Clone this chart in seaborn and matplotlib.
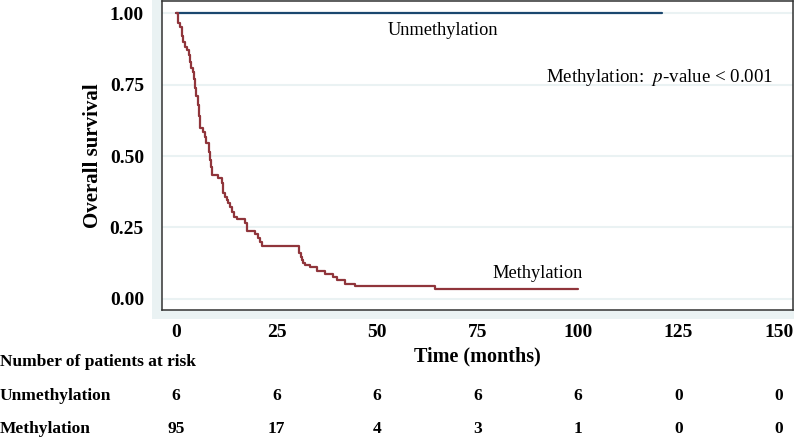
import numpy as np
import pandas as pd
import seaborn as sns
import matplotlib.pyplot as plt
import matplotlib.transforms as mtransforms
from matplotlib.patches import Rectangle

# Kaplan-Meier step values
unmeth_time = [0, 121]
unmeth_surv = [1.0, 1.0]

meth_time = [0, 0.4, 0.6, 1.0, 1.4, 1.6, 1.8, 2.2, 2.7, 3.1, 3.4, 3.7, 4.3, 4.5,
             4.7, 5.0, 5.5, 5.7, 6.0, 6.8, 7.1, 7.5, 8.3, 8.5, 8.7, 8.9, 10.5,
             11.4, 11.6, 11.8, 12.2, 12.6, 13.0, 13.4, 13.8, 14.3, 15.1, 17.2,
             17.6, 19.7, 20.5, 21.0, 21.3, 30.7, 31.0, 31.3, 31.7, 32.1, 33.3,
             35.0, 37.1, 39.1, 40.0, 42.0, 44.5, 64.4, 100]
meth_surv = [1.0, 0.979, 0.964, 0.952, 0.94, 0.92, 0.90, 0.882, 0.87, 0.853,
             0.83, 0.807, 0.795, 0.77, 0.737, 0.71, 0.678, 0.64, 0.597, 0.585,
             0.565, 0.544, 0.515, 0.486, 0.46, 0.434, 0.422, 0.405, 0.39, 0.37,
             0.358, 0.346, 0.335, 0.323, 0.305, 0.288, 0.28, 0.265, 0.239, 0.226,
             0.212, 0.198, 0.185, 0.16, 0.147, 0.136, 0.127, 0.119, 0.111, 0.098,
             0.086, 0.076, 0.066, 0.052, 0.045, 0.035, 0.035]

risk_times = [0, 25, 50, 75, 100, 125, 150]
risk_unmeth = [6, 6, 6, 6, 6, 0, 0]
risk_meth = [95, 17, 4, 3, 1, 0, 0]

sns.set_style("white")
plt.rcParams['font.family'] = ['Liberation Serif', 'DejaVu Serif']
plt.rcParams['mathtext.fontset'] = 'stix'
plt.rcParams['text.color'] = 'black'
plt.rcParams['axes.labelcolor'] = 'black'

navy = '#1A476F'
maroon = '#90353B'
bg = '#EAF2F3'

fig = plt.figure(figsize=(7.94, 4.38), dpi=100)
# light graph region behind the plot
bg_ax = fig.add_axes([152 / 794, 1 - 319 / 438, 1 - 152 / 794, 319 / 438])
bg_ax.set_axis_off()
bg_ax.add_patch(Rectangle((0, 0), 1, 1, transform=bg_ax.transAxes,
                          facecolor=bg, edgecolor='none'))
bg_ax.set_zorder(0)

ax = fig.add_axes([162 / 794, 1 - 310 / 438, 631 / 794, 309 / 438])
ax.set_zorder(2)
ax.set_facecolor('white')

df_u = pd.DataFrame({'time': unmeth_time, 'surv': unmeth_surv})
df_m = pd.DataFrame({'time': meth_time, 'surv': meth_surv})
sns.lineplot(data=df_u, x='time', y='surv', ax=ax, color=navy, lw=1.6,
             drawstyle='steps-post', estimator=None)
sns.lineplot(data=df_m, x='time', y='surv', ax=ax, color=maroon, lw=1.6,
             drawstyle='steps-post', estimator=None)

ax.set_xlim(-3.5, 153.5)
ax.set_ylim(-0.0385, 1.042)
ax.set_xticks(risk_times)
ax.set_yticks([0, 0.25, 0.5, 0.75, 1.0])
ax.set_yticklabels(['0.00', '0.25', '0.50', '0.75', '1.00'])
ax.yaxis.grid(True, color=bg, lw=1.5)
ax.set_axisbelow(True)
ax.tick_params(axis='both', direction='out', length=6, width=1, colors='#333333',
               labelcolor='black', labelsize=14, pad=4)
ax.tick_params(axis='y', pad=7)
for lab in ax.get_xticklabels() + ax.get_yticklabels():
    lab.set_fontweight('bold')
for sp in ax.spines.values():
    sp.set_color('#333333')
    sp.set_linewidth(1.1)

ax.set_xlabel('Time (months)', fontsize=14.5, fontweight='bold', labelpad=4)
ax.set_ylabel('Overall survival', fontsize=15, fontweight='bold', labelpad=5)

ax.text(66.4, 0.94, 'Unmethylation', fontsize=13.2, ha='center', va='center')
ax.text(90, 0.09, 'Methylation', fontsize=13.2, ha='center', va='center')
ax.text(148.5, 0.775, 'Methylation:  $p$-value < 0.001', fontsize=13.6,
        ha='right', va='center')

# number at risk table
trans = mtransforms.blended_transform_factory(ax.transData, fig.transFigure)
fs = 12.5
fig.text(0.0, 1 - 362 / 438, 'Number of patients at risk', fontsize=fs,
         fontweight='bold', va='center')
fig.text(0.0, 1 - 396 / 438, 'Unmethylation', fontsize=fs, fontweight='bold',
         va='center')
fig.text(0.0, 1 - 429 / 438, 'Methylation', fontsize=fs, fontweight='bold',
         va='center')
for t, u, m in zip(risk_times, risk_unmeth, risk_meth):
    ax.text(t, 1 - 396 / 438, str(u), transform=trans, fontsize=fs,
            fontweight='bold', ha='center', va='center')
    ax.text(t, 1 - 429 / 438, str(m), transform=trans, fontsize=fs,
            fontweight='bold', ha='center', va='center')

plt.savefig('out.png', dpi=100)
